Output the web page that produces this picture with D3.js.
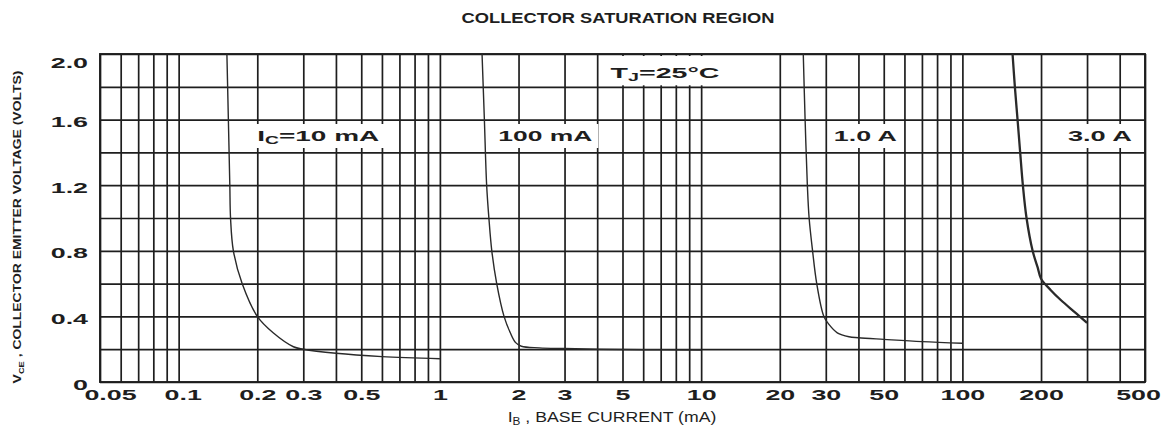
<!DOCTYPE html>
<html><head><meta charset="utf-8">
<script src="https://cdn.jsdelivr.net/npm/d3@7/dist/d3.min.js"></script>
<style>body{margin:0;background:#fff} svg{display:block}</style>
</head><body>
<svg id="c" width="1166" height="432"></svg>
<script>
// ---- data ----
const xTickValues = [0.05,0.1,0.2,0.3,0.5,1,2,3,5,10,20,30,50,100,200,500];
const xTickLabels = ["0.05","0.1","0.2","0.3","0.5","1","2","3","5","10","20","30","50","100","200","500"];
const yTickValues = [0,0.4,0.8,1.2,1.6,2.0];
const yTickLabels = ["0","0.4","0.8","1.2","1.6","2.0"];
const seriesNames = ["IC=10 mA","100 mA","1.0 A","3.0 A"];
// [IB (mA), VCE (V)]
const ic10mA  = [[0.153,2.0],[0.155,1.6],[0.157,1.2],[0.158,1.0],[0.162,0.8],[0.175,0.6],[0.2,0.4],[0.23,0.3],[0.275,0.215],[0.3,0.2],[0.4,0.175],[0.6,0.155],[1.0,0.142]];
const ic100mA = [[1.45,2.0],[1.48,1.6],[1.51,1.2],[1.54,1.0],[1.58,0.8],[1.65,0.6],[1.76,0.4],[1.86,0.3],[1.95,0.24],[2.05,0.218],[2.4,0.208],[3,0.204],[4,0.2],[6,0.197],[10,0.195]];
const ic1A    = [[24.6,2.0],[25,1.6],[25.5,1.2],[25.9,1.0],[26.7,0.8],[27.7,0.6],[29.5,0.4],[30.9,0.35],[33.2,0.3],[36.8,0.276],[40,0.27],[50,0.26],[70,0.246],[100,0.236]];
const ic3A    = [[155.6,2.0],[158.8,1.8],[162.6,1.6],[166.4,1.4],[170.4,1.2],[176,1.0],[185.7,0.8],[194,0.7],[200,0.63],[218,0.56],[238,0.5],[272,0.42],[300,0.36]];

// ---- layout ----
const svg = d3.select("#c");
const L = 100, R = 1145, T = 54, B = 382;
const x = d3.scaleLog().domain([0.05,500]).range([L,R]);
const y = d3.scaleLinear().domain([0,2]).range([B,T]);
const INK = "#1e1e1e";
const FONT = "'Liberation Sans', Arial, Helvetica, sans-serif";

// grid
svg.append("g").attr("transform",`translate(0,${B})`)
  .call(d3.axisBottom(x).tickValues(x.ticks()).tickSize(-(B-T)).tickFormat(""))
  .call(g=>g.select(".domain").remove())
  .selectAll("line").attr("stroke",INK).attr("stroke-width",1.7);
svg.append("g").attr("transform",`translate(${L},0)`)
  .call(d3.axisLeft(y).tickValues(y.ticks(10)).tickSize(-(R-L)).tickFormat(""))
  .call(g=>g.select(".domain").remove())
  .selectAll("line").attr("stroke",INK).attr("stroke-width",1.7);
svg.append("rect").attr("x",L).attr("y",T).attr("width",R-L).attr("height",B-T)
  .attr("fill","none").attr("stroke",INK).attr("stroke-width",1.9);

// helper: text fitted to a width
function fitText(parent, tx, ty, targetW, anchor, style, build, rot) {
  const g = parent.append("g").attr("transform",`translate(${tx},${ty})` + (rot?` rotate(${rot})`:""));
  const t = g.append("text").attr("text-anchor",anchor).attr("font-family",FONT).attr("fill",INK);
  Object.entries(style).forEach(([k,v])=>t.attr(k,v));
  build(t);
  const w = t.node().getBBox().width;
  t.attr("transform",`scale(${targetW/w},1)`);
  return g;
}
function sub(t, main, s, rest, fs) {
  t.append("tspan").text(main);
  t.append("tspan").attr("font-size",fs).attr("dy",3).text(s);
  t.append("tspan").attr("dy",-3).text(rest);
}

// label backgrounds
const labelBoxes = [
  {x0:0.2,  w:123, v:1.5},
  {x0:1.674,w:95,  v:1.5},
  {x0:32.2, w:64,  v:1.5},
  {x0:253.5,w:65,  v:1.5}
];
labelBoxes.forEach(b=>{
  svg.append("rect").attr("x",x(b.x0)-5).attr("y",y(b.v)-12).attr("width",b.w+10).attr("height",24).attr("fill","#fff");
});
svg.append("rect").attr("x",x(4.5)-4).attr("y",T+2).attr("width",118).attr("height",y(1.8)-T-3.5).attr("fill","#fff");

// curves
const line = d3.line().x(d=>x(d[0])).y(d=>y(d[1])).curve(d3.curveCatmullRom.alpha(0.5));
[[ic10mA,1.4],[ic100mA,1.4],[ic1A,1.4],[ic3A,2.3]].forEach(([d,w])=>{
  svg.append("path").datum(d).attr("d",line).attr("fill","none").attr("stroke","#2a2a2a").attr("stroke-width",w);
});

// curve labels
const lblStyle = {"font-size":14.5,"font-weight":"bold"};
fitText(svg, x(labelBoxes[0].x0), y(1.5)+5, 123, "start", lblStyle, t=>sub(t,"I","C","=10 mA",10));
fitText(svg, x(labelBoxes[1].x0), y(1.5)+5, 95, "start", lblStyle, t=>t.text(seriesNames[1]));
fitText(svg, x(labelBoxes[2].x0), y(1.5)+5, 64, "start", lblStyle, t=>t.text(seriesNames[2]));
fitText(svg, x(labelBoxes[3].x0), y(1.5)+5, 65, "start", lblStyle, t=>t.text(seriesNames[3]));
fitText(svg, x(4.5), y(1.884)+5, 110, "start", lblStyle, t=>sub(t,"T","J","=25°C",10));

// x tick labels
const xOff = {"0.05":10,"0.1":4,"500":-7};
const xa = svg.append("g").attr("transform",`translate(0,${B})`)
  .call(d3.axisBottom(x).tickValues(xTickValues).tickSize(0).tickPadding(7)
    .tickFormat((d,i)=>xTickLabels[i]));
xa.select(".domain").remove();
xa.selectAll("text").attr("font-family",FONT).attr("font-size",14.5).attr("font-weight","bold").attr("fill",INK)
  .attr("y",18).attr("dy",0)
  .attr("transform",function(){const k=this.textContent; return `translate(${xOff[k]||0},0) scale(1.85,1)`;});

// y tick labels
const ya = svg.append("g").attr("transform",`translate(${L},0)`)
  .call(d3.axisLeft(y).tickValues(yTickValues).tickSize(0).tickFormat((d,i)=>yTickLabels[i]));
ya.select(".domain").remove();
ya.selectAll("text").attr("font-family",FONT).attr("font-size",14.5).attr("font-weight","bold").attr("fill",INK)
  .attr("x",0).attr("dy",0).attr("y",7)
  .attr("transform",function(){const k=this.textContent; return `translate(-12,${k==="2.0"?6:0}) scale(1.85,1)`;});

// title
fitText(svg, 618, 23, 313, "middle", {"font-size":15,"font-weight":"bold"}, t=>t.text("COLLECTOR SATURATION REGION"));
// x title
fitText(svg, 612, 422, 209, "middle", {"font-size":15}, t=>sub(t,"I","B"," , BASE CURRENT (mA)",10));
// y title
fitText(svg, 21, 227, 313, "middle", {"font-size":10.5,"font-weight":"bold"}, t=>sub(t,"V","CE"," , COLLECTOR EMITTER VOLTAGE (VOLTS)",7), -90);
</script>
</body></html>
